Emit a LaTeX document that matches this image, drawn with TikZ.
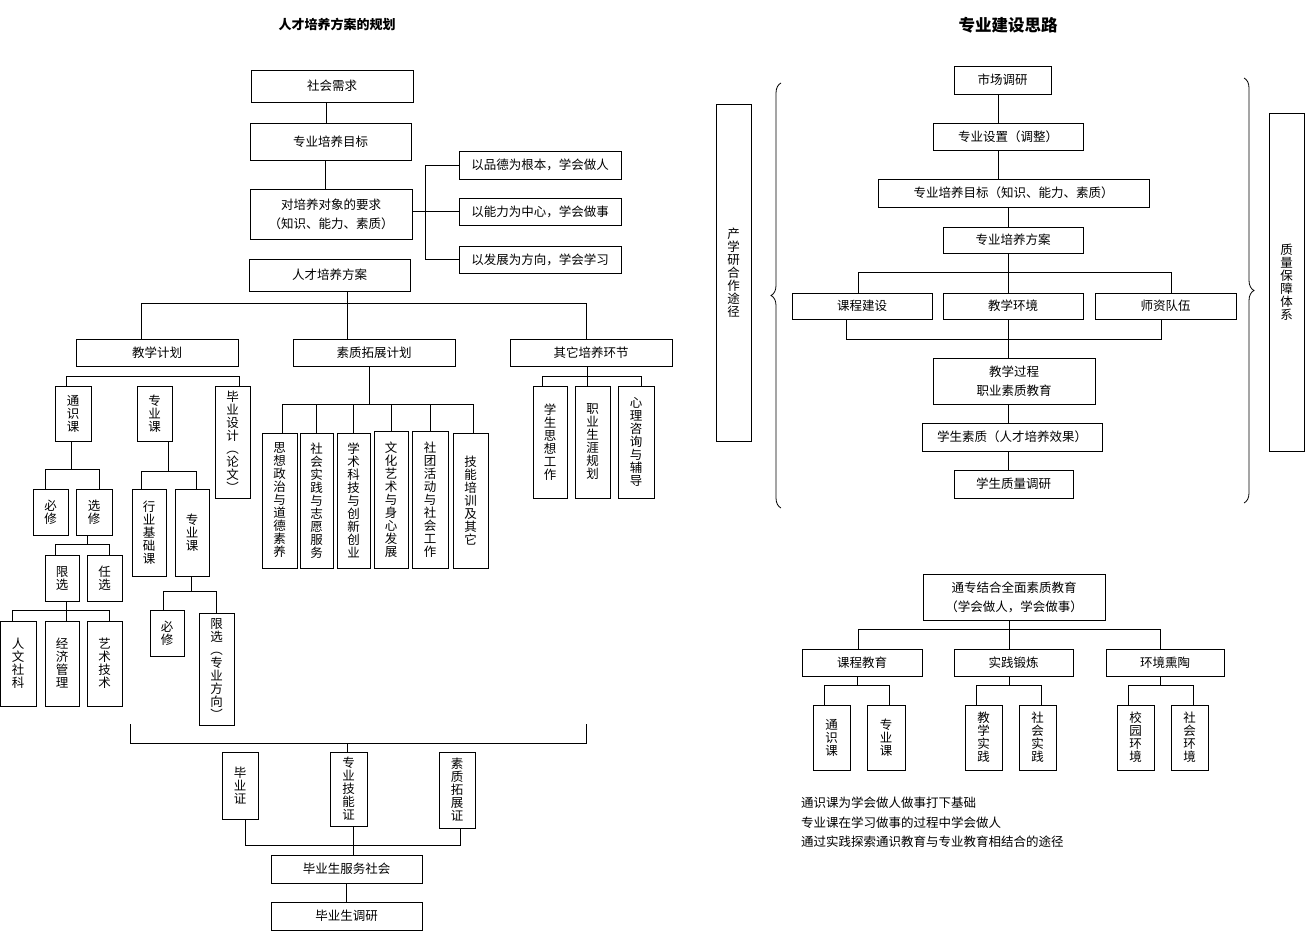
\documentclass[tikz,border=0pt]{standalone}
\usepackage{fontspec}
\newfontfamily\cjk{Noto Sans CJK SC}
\usepackage{tikz}
\usetikzlibrary{positioning,calc,decorations.pathreplacing}
\tikzset{
    box/.style={draw, line width=0.8pt, inner sep=0pt, align=center, font=\cjk\fontsize{12.5}{19}\selectfont},
    vbox/.style={box, font=\cjk\fontsize{12.5}{13}\selectfont},
    wh/.style 2 args={minimum width=#1, minimum height=#2},
    link/.style={line width=1pt},
    heading/.style={font=\cjk\bfseries\fontsize{13}{15}\selectfont},
    bracebar/.style={line width=0.8pt, decorate, decoration={brace, amplitude=10pt}}
}

\begin{document}
\begin{tikzpicture}[x=1pt, y=-1pt]
\useasboundingbox (0,0) rectangle (1305,931);

% Left: planning of the training scheme
\node[heading] (title1) at (337,24) {人才培养方案的规划};
\node[box, wh={162}{32}] (need) at (332,86) {社会需求};
\node[box, wh={161}{37}] (goal) at (330.5,141.5) {专业培养目标};
\node[box, wh={162}{50}] (req) at (331,214) {对培养对象的要求\\（知识、能力、素质）};
\node[box, wh={162}{28}] (g1) at (540,165) {以品德为根本，学会做人};
\node[box, wh={162}{27}] (g2) at (540,211.5) {以能力为中心，学会做事};
\node[box, wh={162}{27}] (g3) at (540,259.5) {以发展为方向，学会学习};
\node[box, wh={161}{32}] (plan) at (329.5,275) {人才培养方案};
\draw[link] ([xshift=-6]need.south) -- ([xshift=-6]need.south |- goal.north);
\draw[link] ([xshift=-5.5]goal.south) -- ([xshift=-5.5]goal.south |- req.north);
\draw[link] (req.east |- g2.west) -- (g2.west);
\draw[link] (g1.west) -- ++(-33,0) |- (g3.west);

% three plans
\node[box, wh={162}{27}] (teach) at (157,352.5) {教学计划};
\node[box, wh={162}{27}] (qual) at (374,352.5) {素质拓展计划};
\node[box, wh={162}{27}] (other) at (591,352.5) {其它培养环节};
\draw[link] ([xshift=17.5]plan.south) -- ([xshift=-27]qual.north);
\draw[link] ([xshift=-16]teach.north) -- ++(0,-35) -| ([xshift=-5]other.north);

% teaching plan
\node[vbox, wh={36}{55}] (tong) at (73,413.5) {通\\识\\课};
\node[vbox, wh={35}{55}] (zhuan) at (154.5,413.5) {专\\业\\课};
\node[vbox, wh={35}{112}] (bysj) at (232.5,442) {毕\\业\\设\\计\\︵\\论\\文\\︶};
\draw[link] ([xshift=-7]tong.north) -- ++(0,-9) -| ([xshift=7]bysj.north);

\node[vbox, wh={35}{46}] (bx1) at (50.5,512) {必\\修};
\node[vbox, wh={36}{46}] (xx) at (94,512) {选\\修};
\draw[link] ([xshift=-2]tong.south) -- ++(0,29);
\draw[link] ([xshift=-5.5]bx1.north) -- ++(0,-19) -| ([xshift=5]xx.north);

\node[vbox, wh={34}{46}] (xianx) at (62,578) {限\\选};
\node[vbox, wh={35}{46}] (renx) at (104.5,578) {任\\选};
\draw[link] ([xshift=-7]xx.south) -- ++(0,10);
\draw[link] ([xshift=-7]xianx.north) -- ++(0,-10) -| ([xshift=4.5]renx.north);

\node[vbox, wh={35.5}{85}] (rw) at (18.25,663.5) {人\\文\\社\\科};
\node[vbox, wh={34}{85}] (jj) at (62,663.5) {经\\济\\管\\理};
\node[vbox, wh={35}{85}] (ys) at (104.5,663.5) {艺\\术\\技\\术};
\draw[link] ([xshift=4]xianx.south) -- ++(0,10);
\draw[link] ([xshift=-6]rw.north) -- ++(0,-10) -| ([xshift=4.5]ys.north);
\draw[link] ([xshift=4]jj.north) -- ++(0,-10);

\node[vbox, wh={34}{87}] (hy) at (149,532.5) {行\\业\\基\\础\\课};
\node[vbox, wh={34}{87}] (zyk) at (192,532.5) {专\\业\\课};
\draw[link] ([xshift=13.5]zhuan.south) -- ++(0,31);
\draw[link] ([xshift=-8]hy.north) -- ++(0,-17) -| ([xshift=4]zyk.north);

\node[vbox, wh={34}{46}] (bx2) at (167,633) {必\\修};
\node[vbox, wh={35}{112}] (xzf) at (216.5,669) {限\\选\\︵\\专\\业\\方\\向\\︶};
\draw[link] ([xshift=-1]zyk.south) -- ++(0,16);
\draw[link] ([xshift=-4]bx2.north) -- ++(0,-18) -| (xzf.north);

% quality plan
\node[vbox, wh={35}{135}] (s1) at (279.5,500.5) {思\\想\\政\\治\\与\\道\\德\\素\\养};
\node[vbox, wh={33}{135}] (s2) at (316.5,500.5) {社\\会\\实\\践\\与\\志\\愿\\服\\务};
\node[vbox, wh={33}{135}] (s3) at (353.5,500.5) {学\\术\\科\\技\\与\\创\\新\\创\\业};
\node[vbox, wh={34}{137}] (s4) at (391,499.5) {文\\化\\艺\\术\\与\\身\\心\\发\\展};
\node[vbox, wh={36}{137}] (s5) at (430,499.5) {社\\团\\活\\动\\与\\社\\会\\工\\作};
\node[vbox, wh={35}{135}] (s6) at (470.5,500.5) {技\\能\\培\\训\\及\\其\\它};
\draw[link] ([xshift=-5]qual.south) -- ++(0,39);
\draw[link] ([xshift=2.5]s1.north) -- ++(0,-28) coordinate (qbar) -| ([xshift=2.5]s6.north);
\foreach \s in {s2,s3,s4,s5}
    \draw[link] (\s.north) -- (\s.north |- qbar);

% other parts
\node[vbox, wh={34}{112}] (o1) at (550,442) {学\\生\\思\\想\\工\\作};
\node[vbox, wh={35}{112}] (o2) at (592.5,442) {职\\业\\生\\涯\\规\\划};
\node[vbox, wh={36}{112}] (o3) at (636,442) {心\\理\\咨\\询\\与\\辅\\导};
\draw[link] ([xshift=-4]other.south) -- ++(0,11);
\draw[link] ([xshift=-8]o1.north) -- ++(0,-9) -| ([xshift=5]o3.north);
\draw[link] ([xshift=-5.5]o2.north) -- ++(0,-9);

% certificates
\coordinate (brl) at (130,724);
\coordinate (brr) at (586,724);
\draw[link] (brl) -- ++(0,19) -| (brr);
\node[vbox, wh={36}{67}] (c1) at (240,785.5) {毕\\业\\证};
\node[vbox, wh={37}{74}] (c2) at (348.5,789) {专\\业\\技\\能\\证};
\node[vbox, wh={36}{76}] (c3) at (457,790) {素\\质\\拓\\展\\证};
\draw[link] ([xshift=-1.5]c2.north) -- ++(0,-9);
\node[box, wh={151}{28}] (serve) at (346.5,869) {毕业生服务社会};
\node[box, wh={151}{28}] (survey) at (346.5,916) {毕业生调研};
\draw[link] ([xshift=5]c1.south) -- ++(0,26) -| ([xshift=3]c3.south);
\draw[link] ([xshift=4.5]c2.south) -- ([xshift=4.5]c2.south |- serve.north);
\draw[link] (serve.south) -- (survey.north);

% Right: ideas of specialty construction
\node[heading, font=\cjk\bfseries\fontsize{16.5}{18}\selectfont] (title2) at (1008,25) {专业建设思路};
\node[box, wh={97}{28}] (m1) at (1002.5,80) {市场调研};
\node[box, wh={150}{27}] (m2) at (1008,136.5) {专业设置（调整）};
\node[box, wh={271}{28}] (m3) at (1013.5,193) {专业培养目标（知识、能力、素质）};
\node[box, wh={140}{26}] (m4) at (1013,240) {专业培养方案};
\node[box, wh={140}{26}] (k1) at (862,306) {课程建设};
\node[box, wh={140}{26}] (k2) at (1013,306) {教学环境};
\node[box, wh={141}{26}] (k3) at (1165.5,306) {师资队伍};
\node[box, wh={162}{46}] (m5) at (1014,381) {教学过程\\职业素质教育};
\node[box, wh={180}{28}] (m6) at (1012,437) {学生素质（人才培养效果）};
\node[box, wh={119}{28}] (m7) at (1013.5,484) {学生质量调研};
\node[vbox, wh={35}{337}] (side1) at (733.5,272.5) {产\\学\\研\\合\\作\\途\\径};
\node[vbox, wh={35}{338}] (side2) at (1286.5,282) {质\\量\\保\\障\\体\\系};
\draw[bracebar] (781,508) -- (781,83);
\draw[bracebar] (1244,78) -- (1244,503);

\draw[link] ([xshift=-4.5]m1.south) -- ([xshift=-4.5]m1.south |- m2.north);
\draw[link] ([xshift=-10]m2.south) -- ([xshift=-10]m2.south |- m3.north);
\draw[link] ([xshift=-5.5]m3.south) -- ([xshift=-5.5]m3.south |- m4.north);
\draw[link] ([xshift=-5]m4.south) -- ([xshift=-5]k2.north);
\draw[link] ([xshift=-4]k1.north) -- ++(0,-20) -| ([xshift=5.5]k3.north);
\draw[link] ([xshift=-16]k1.south) -- ++(0,20) -| ([xshift=-4.5]k3.south);
\draw[link] ([xshift=-5]k2.south) -- ([xshift=-5]k2.south |- m5.north);
\draw[link] ([xshift=-6]m5.south) -- ([xshift=-6]m5.south |- m6.north);
\draw[link] ([xshift=-4]m6.south) -- ([xshift=-4]m6.south |- m7.north);

% integrated quality education
\node[box, wh={182}{46}] (t0) at (1014,597) {通专结合全面素质教育\\（学会做人，学会做事）};
\node[box, wh={120}{27}] (e1) at (862,662.5) {课程教育};
\node[box, wh={119}{27}] (e2) at (1013.5,662.5) {实践锻炼};
\node[box, wh={118}{27}] (e3) at (1165,662.5) {环境熏陶};
\draw[link] ([xshift=-5]t0.south) -- ([xshift=-5]t0.south |- e2.north);
\draw[link] ([xshift=-4]e1.north) -- ++(0,-19) -| ([xshift=-5]e3.north);

\node[vbox, wh={37}{65}] (f1) at (831.5,737.5) {通\\识\\课};
\node[vbox, wh={38}{65}] (f2) at (886,737.5) {专\\业\\课};
\node[vbox, wh={37}{65}] (f3) at (983.5,737.5) {教\\学\\实\\践};
\node[vbox, wh={37}{65}] (f4) at (1037.5,737.5) {社\\会\\实\\践};
\node[vbox, wh={37}{65}] (f5) at (1135.5,737.5) {校\\园\\环\\境};
\node[vbox, wh={37}{65}] (f6) at (1189.5,737.5) {社\\会\\环\\境};
\foreach \p/\a/\b in {e1/f1/f2, e2/f3/f4, e3/f5/f6} {
    \draw[link] ([xshift=-4.5]\p.south) -- ++(0,10);
    \draw[link] ([xshift=-7.5]\a.north) -- ++(0,-19) -| ([xshift=3.5]\b.north);
}

\node[anchor=west, align=left, inner sep=0pt, font=\cjk\fontsize{12.5}{19.5}\selectfont] (notes) at (801,822.5)
    {通识课为学会做人做事打下基础\\专业课在学习做事的过程中学会做人\\通过实践探索通识教育与专业教育相结合的途径};
\end{tikzpicture}
\end{document}
